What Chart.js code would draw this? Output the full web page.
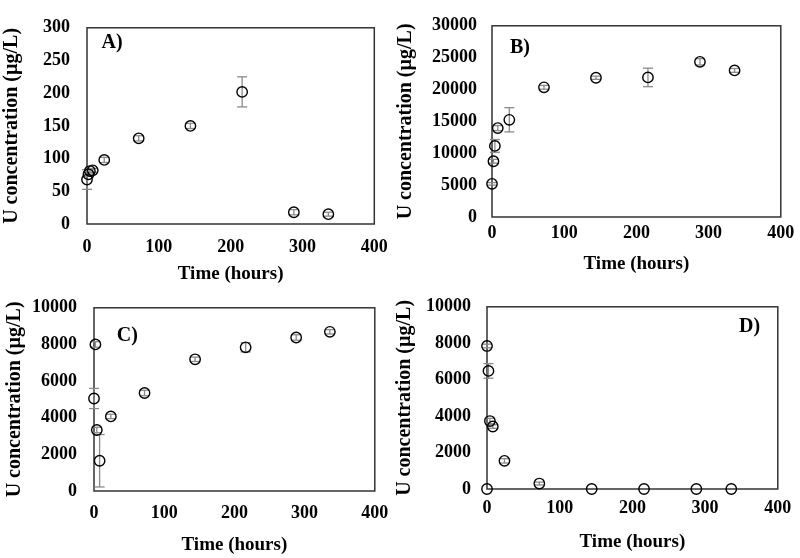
<!DOCTYPE html>
<html>
<head>
<meta charset="utf-8">
<script src="https://cdn.jsdelivr.net/npm/chart.js@4.4.1/dist/chart.umd.min.js"></script>
<style>
  html, body { margin: 0; padding: 0; background: #fff; }
  body { width: 800px; height: 558px; position: relative; overflow: hidden; }
  canvas { position: absolute; }
</style>
</head>
<body>
<canvas id="cA" width="400" height="288" style="left:0px;top:0px;width:400px;height:288px"></canvas>
<canvas id="cB" width="406" height="280" style="left:394px;top:0px;width:406px;height:280px"></canvas>
<canvas id="cC" width="397" height="278" style="left:3px;top:280px;width:397px;height:278px"></canvas>
<canvas id="cD" width="407" height="278" style="left:393px;top:280px;width:407px;height:278px"></canvas>
<script>
// ---- data ----
const timesA = [0, 2, 4, 8, 24, 72, 144, 216, 288, 336];
const concA  = [68, 76, 81, 82, 98, 131, 150, 202, 18, 15];
const errA   = [15, 3, 3, 3, 4, 4, 4, 23, 4, 3];

const timesB = [0, 2, 4, 8, 24, 72, 144, 216, 288, 336];
const concB  = [5200, 8750, 11150, 13950, 15250, 20350, 21850, 21900, 24350, 23000];
const errB   = [200, 300, 1000, 400, 1900, 300, 250, 1450, 500, 300];

const timesC = [0, 2, 4, 8, 24, 72, 144, 216, 288, 336];
const concC  = [5050, 8000, 3330, 1650, 4070, 5350, 7190, 7840, 8380, 8690];
const errC   = [550, 150, 150, 1430, 120, 150, 120, 250, 150, 120];

const timesD = [0, 0, 2, 4, 8, 24, 72, 144, 216, 288, 336];
const concD  = [0, 7850, 6480, 3730, 3430, 1545, 300, 0, 0, 0, 0];
const errD   = [0, 100, 400, 150, 100, 120, 80, 0, 0, 0, 0];

const xTicks = [0, 100, 200, 300, 400];
const xTitle = 'Time (hours)';
const yTitle = 'U concentration (µg/L)';
const panelNames = ['A)', 'B)', 'C)', 'D)'];

// ---- helpers ----
const FONT = '"Liberation Serif", "Times New Roman", serif';

const framePlugin = {
  id: 'frame',
  beforeDatasetsDraw(chart) {
    const a = chart.chartArea, ctx = chart.ctx;
    ctx.save();
    ctx.strokeStyle = '#333';
    ctx.lineWidth = 1.5;
    ctx.strokeRect(a.left, a.top, a.right - a.left, a.bottom - a.top);
    ctx.restore();
  },
  afterDraw(chart, args, opts) {
    if (!opts || !opts.text) return;
    const a = chart.chartArea, ctx = chart.ctx;
    ctx.save();
    ctx.fillStyle = '#000';
    ctx.font = 'bold 20px ' + FONT;
    ctx.textBaseline = 'middle';
    if (opts.align === 'right') {
      ctx.textAlign = 'right';
      ctx.fillText(opts.text, a.right - opts.dx, a.top + opts.dy);
    } else {
      ctx.textAlign = 'left';
      ctx.fillText(opts.text, a.left + opts.dx, a.top + opts.dy);
    }
    ctx.restore();
  }
};

function makePanel(id, times, conc, err, cfg) {
  const pts = times.map((t, i) => ({ x: t, y: conc[i] }));
  const bars = [];
  times.forEach((t, i) => {
    if (err[i] > 0) {
      bars.push({ x: t, y: conc[i] - err[i] });
      bars.push({ x: t, y: conc[i] + err[i] });
      bars.push({ x: t, y: null });
    }
  });
  new Chart(document.getElementById(id), {
    type: 'scatter',
    data: {
      datasets: [
        {
          data: pts,
          pointStyle: 'circle',
          pointRadius: 5.2,
          pointBorderWidth: 1.4,
          pointBorderColor: '#000',
          pointBackgroundColor: 'rgba(0,0,0,0)',
          clip: false
        },
        {
          data: bars,
          showLine: true,
          spanGaps: false,
          borderColor: '#8a8a8a',
          borderWidth: 1.3,
          pointStyle: 'line',
          pointRadius: 5,
          pointBorderColor: '#8a8a8a',
          pointBorderWidth: 1.3,
          clip: false
        }
      ]
    },
    options: {
      responsive: false,
      animation: false,
      events: [],
      layout: { padding: { left: 0, top: cfg.top, right: cfg.right, bottom: 0 } },
      plugins: {
        legend: { display: false },
        tooltip: { enabled: false },
        frame: cfg.label
      },
      scales: {
        x: {
          type: 'linear',
          min: xTicks[0], max: xTicks[xTicks.length - 1],
          grid: { display: false, drawTicks: false },
          border: { display: false },
          afterBuildTicks: s => { s.ticks = xTicks.map(v => ({ value: v })); },
          ticks: { color: '#000', font: { family: FONT, size: 18, weight: 'bold' }, padding: cfg.xPad, maxRotation: 0, autoSkip: false,
                   callback: v => String(v) },
          title: { display: true, text: xTitle, color: '#000', font: { family: FONT, size: 19, weight: 'bold' }, padding: { top: 0, bottom: cfg.xTitlePad } },
          afterFit: s => { s.height = cfg.xHeight; }
        },
        y: {
          type: 'linear',
          min: 0, max: cfg.yMax,
          grid: { display: false, drawTicks: false },
          border: { display: false },
          ticks: { stepSize: cfg.yStep, color: '#000', font: { family: FONT, size: 18, weight: 'bold' }, padding: cfg.yPad, autoSkip: false,
                   callback: v => String(v) },
          title: { display: true, text: yTitle, color: '#000', font: { family: FONT, size: 20, weight: 'bold' }, padding: { top: 0, bottom: 0 } },
          afterFit: s => { s.width = cfg.yWidth; }
        }
      }
    },
    plugins: [framePlugin]
  });
}

makePanel('cA', timesA, concA, errA, {
  top: 18, right: 22, yWidth: 87, xHeight: 64, xPad: 12.2, xTitlePad: 2.6, yPad: 17,
  yMax: 300, yStep: 50, label: { text: panelNames[0], dx: 14.5, dy: 15 }
});
makePanel('cB', timesB, concB, errB, {
  top: 13, right: 19, yWidth: 98, xHeight: 63, xPad: 5.7, xTitlePad: 4.6, yPad: 15,
  yMax: 30000, yStep: 5000, label: { text: panelNames[1], dx: 18, dy: 22 }
});
makePanel('cC', timesC, concC, errC, {
  top: 22, right: 21, yWidth: 91, xHeight: 67, xPad: 11.7, xTitlePad: 1.6, yPad: 17,
  yMax: 10000, yStep: 2000, label: { text: panelNames[2], dx: 22.7, dy: 28 }
});
makePanel('cD', timesD, concD, errD, {
  top: 22, right: 19, yWidth: 94, xHeight: 69, xPad: 8.7, xTitlePad: 4.1, yPad: 16,
  yMax: 10000, yStep: 2000, label: { text: panelNames[3], dx: 17.7, dy: 20, align: 'right' }
});
</script>
</body>
</html>
